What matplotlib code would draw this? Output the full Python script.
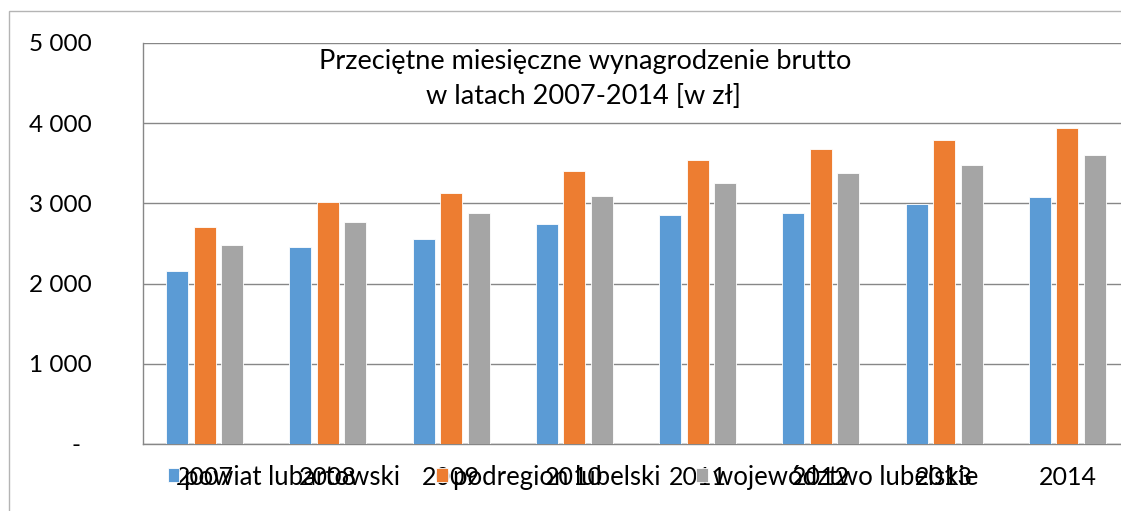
import matplotlib
matplotlib.use("Agg")
import matplotlib.pyplot as plt
import matplotlib.patches as mpatches
import matplotlib.transforms as mtransforms
import numpy as np

# ── Data ─────────────────────────────────────────────────────────────
years = ["2007", "2008", "2009", "2010", "2011", "2012", "2013", "2014"]
series_names = ["powiat lubartowski", "podregion lubelski", "województwo lubelskie"]
powiat = [2161, 2456, 2556, 2739, 2852, 2877, 2989, 3076]
podregion = [2702, 3017, 3126, 3404, 3541, 3678, 3795, 3937]
wojewodztwo = [2478, 2764, 2884, 3092, 3251, 3375, 3483, 3600]
yticks = [0, 1000, 2000, 3000, 4000, 5000]
ytick_labels = ["-", "1 000", "2 000", "3 000", "4 000", "5 000"]

BLUE = "#5B9BD5"
ORANGE = "#ED7D31"
GRAY = "#A5A5A5"
GRID = "#878787"
FONT = "Lato"

plt.rcParams.update({"font.family": FONT, "font.size": 17})

W, H = 1121, 511
fig = plt.figure(figsize=(W / 100, H / 100), dpi=100)
fig.patch.set_facecolor("white")

# outer chart frame (extends past the cropped right/bottom edges)
frame = mpatches.Rectangle((9 / W, -0.1), 1.2, 1 - 11 / H + 0.1,
                           transform=fig.transFigure, fill=False,
                           edgecolor="#B4B4B4", linewidth=1.0)
fig.patches.append(frame)

ax = fig.add_axes([143 / W, 1 - 444 / H, 986 / W, 401 / H])
x = np.arange(len(years))
w = 0.18
step = 0.223
for off, vals, clr, name in [(-step, powiat, BLUE, series_names[0]),
                             (0, podregion, ORANGE, series_names[1]),
                             (step, wojewodztwo, GRAY, series_names[2])]:
    ax.bar(x + off, vals, w, color=clr, edgecolor="white", linewidth=0.6,
           label=name, zorder=3)

ax.set_xlim(-0.5, len(years) - 0.5)
ax.set_ylim(0, 5000)
ax.set_yticks(yticks)
ax.set_yticklabels(ytick_labels, fontsize=17.5)
ax.set_xticks(x)
ax.set_xticklabels(years, fontsize=18)
ax.tick_params(axis="y", length=0, pad=37)
ax.tick_params(axis="x", length=0, pad=15.5)
ax.yaxis.grid(True, color=GRID, linewidth=1.0, zorder=0)
for s in ["top", "right"]:
    ax.spines[s].set_visible(False)
for s in ["left", "bottom"]:
    ax.spines[s].set_color(GRID)
    ax.spines[s].set_linewidth(1.0)
ax.set_axisbelow(True)

# the "-" zero label sits a little left of the others
zero_lbl = ax.get_yticklabels()[0]
zero_lbl.set_transform(zero_lbl.get_transform() +
                       mtransforms.ScaledTranslation(-0.11, 0, fig.dpi_scale_trans))

fig.text(585 / W, 1 - 61 / H, "Przeciętne miesięczne wynagrodzenie brutto",
         ha="center", va="center", fontsize=19.5)
fig.text(584 / W, 1 - 97 / H, "w latach 2007-2014 [w zł]",
         ha="center", va="center", fontsize=19.5)

fig.legend(loc="center", bbox_to_anchor=(573 / W, 1 - 477 / H), ncol=3,
           frameon=False, fontsize=18.5, handlelength=0.45, handleheight=0.45,
           handletextpad=0.2, columnspacing=1.4, borderpad=0)

fig.savefig("out.png", dpi=100, facecolor="white")
